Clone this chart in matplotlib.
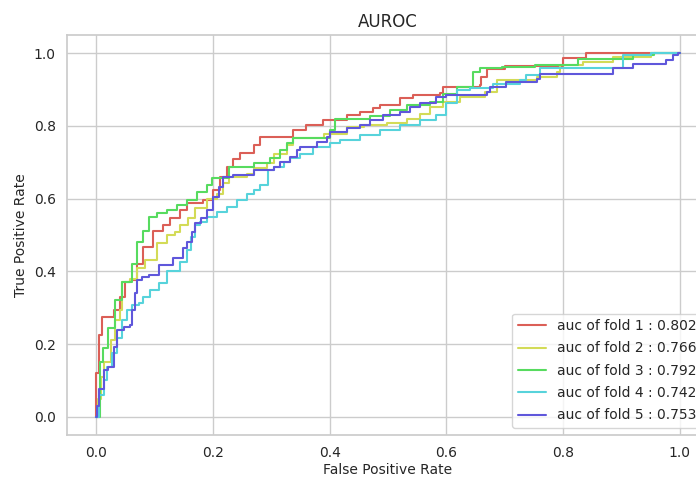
import matplotlib
matplotlib.use("Agg")
import matplotlib.pyplot as plt
import seaborn as sns

# ROC corner points (fpr, tpr) per fold
fold1_fpr = [0.0, 0.0, 0.005, 0.01, 0.03, 0.04, 0.05, 0.058, 0.07, 0.081, 0.098, 0.115, 0.126,
             0.143, 0.155, 0.183, 0.2, 0.212, 0.224, 0.235, 0.247, 0.27, 0.28, 0.332, 0.338,
             0.36, 0.389, 0.43, 0.452, 0.475, 0.486, 0.52, 0.543, 0.589, 0.594, 0.658, 0.66,
             0.669, 0.70, 0.797, 0.80, 0.84, 1.0]
fold1_tpr = [0.0, 0.12, 0.225, 0.275, 0.295, 0.33, 0.37, 0.376, 0.42, 0.468, 0.51, 0.527, 0.546,
             0.568, 0.587, 0.596, 0.624, 0.66, 0.688, 0.71, 0.725, 0.747, 0.77, 0.77, 0.788,
             0.802, 0.816, 0.83, 0.839, 0.849, 0.857, 0.876, 0.885, 0.89, 0.907, 0.912, 0.935,
             0.956, 0.964, 0.964, 0.986, 1.0, 1.0]

fold2_fpr = [0.0, 0.003, 0.008, 0.014, 0.025, 0.033, 0.041, 0.044, 0.058, 0.07, 0.084, 0.104,
             0.121, 0.135, 0.144, 0.158, 0.17, 0.19, 0.207, 0.218, 0.227, 0.258, 0.27, 0.292,
             0.304, 0.327, 0.338, 0.39, 0.43, 0.458, 0.498, 0.532, 0.555, 0.572, 0.595, 0.623,
             0.666, 0.686, 0.755, 0.789, 0.795, 0.834, 0.885, 0.95, 1.0]
fold2_tpr = [0.0, 0.05, 0.11, 0.15, 0.21, 0.266, 0.294, 0.372, 0.38, 0.408, 0.431, 0.477,
             0.5, 0.509, 0.527, 0.546, 0.573, 0.60, 0.614, 0.642, 0.66, 0.669, 0.683, 0.697,
             0.724, 0.747, 0.766, 0.779, 0.797, 0.802, 0.807, 0.82, 0.834, 0.852, 0.866, 0.88,
             0.894, 0.926, 0.935, 0.949, 0.967, 0.976, 0.99, 1.0, 1.0]

fold3_fpr = [0.0, 0.007, 0.012, 0.021, 0.033, 0.044, 0.061, 0.07, 0.08, 0.09, 0.104, 0.121,
             0.138, 0.155, 0.172, 0.19, 0.198, 0.227, 0.27, 0.298, 0.315, 0.327, 0.338, 0.40,
             0.409, 0.469, 0.503, 0.532, 0.572, 0.595, 0.618, 0.646, 0.658, 0.695, 0.752,
             0.826, 0.92, 0.955, 1.0]
fold3_tpr = [0.0, 0.15, 0.19, 0.245, 0.32, 0.37, 0.42, 0.48, 0.51, 0.55, 0.56, 0.568,
             0.582, 0.596, 0.619, 0.637, 0.656, 0.688, 0.697, 0.711, 0.733, 0.752, 0.766, 0.788,
             0.82, 0.827, 0.843, 0.857, 0.866, 0.889, 0.907, 0.949, 0.96, 0.962, 0.967,
             0.983, 0.995, 1.0, 1.0]

fold4_fpr = [0.0, 0.005, 0.013, 0.019, 0.027, 0.035, 0.044, 0.052, 0.061, 0.073, 0.081, 0.092,
             0.107, 0.121, 0.144, 0.155, 0.163, 0.17, 0.177, 0.19, 0.207, 0.224, 0.241, 0.258,
             0.27, 0.281, 0.295, 0.304, 0.321, 0.332, 0.349, 0.372, 0.40, 0.418, 0.452, 0.486,
             0.52, 0.555, 0.583, 0.60, 0.618, 0.64, 0.68, 0.726, 0.737, 0.76, 0.902, 0.95, 1.0]
fold4_tpr = [0.0, 0.06, 0.10, 0.138, 0.175, 0.216, 0.266, 0.294, 0.308, 0.312, 0.33, 0.349,
             0.367, 0.40, 0.427, 0.459, 0.495, 0.527, 0.537, 0.55, 0.564, 0.578, 0.596, 0.614,
             0.624, 0.637, 0.679, 0.688, 0.701, 0.711, 0.724, 0.743, 0.752, 0.761, 0.775, 0.788,
             0.802, 0.816, 0.83, 0.862, 0.898, 0.903, 0.915, 0.926, 0.94, 0.958, 0.995, 1.0, 1.0]

fold5_fpr = [0.0, 0.002, 0.005, 0.013, 0.021, 0.03, 0.035, 0.047, 0.058, 0.061, 0.067, 0.07,
             0.079, 0.09, 0.107, 0.132, 0.149, 0.155, 0.164, 0.17, 0.18, 0.19, 0.2, 0.21, 0.218,
             0.235, 0.27, 0.304, 0.315, 0.332, 0.344, 0.349, 0.378, 0.395, 0.40, 0.43, 0.452,
             0.469, 0.492, 0.52, 0.538, 0.555, 0.583, 0.60, 0.669, 0.675, 0.703, 0.755, 0.76,
             0.886, 0.92, 0.977, 0.989, 0.997, 1.0]
fold5_tpr = [0.0, 0.03, 0.076, 0.129, 0.138, 0.193, 0.239, 0.248, 0.253, 0.294, 0.34, 0.376,
             0.385, 0.39, 0.418, 0.436, 0.463, 0.482, 0.509, 0.532, 0.546, 0.568, 0.605, 0.633,
             0.66, 0.665, 0.679, 0.688, 0.701, 0.715, 0.733, 0.743, 0.756, 0.77, 0.784, 0.793,
             0.802, 0.816, 0.83, 0.839, 0.852, 0.862, 0.88, 0.885, 0.894, 0.907, 0.921, 0.93,
             0.944, 0.958, 0.971, 0.981, 0.995, 1.0, 1.0]

fold_aucs = [0.802, 0.766, 0.792, 0.742, 0.753]

sns.set_theme(style="whitegrid")
plt.rcParams['font.family'] = ['DejaVu Sans']

fprs = [fold1_fpr, fold2_fpr, fold3_fpr, fold4_fpr, fold5_fpr]
tprs = [fold1_tpr, fold2_tpr, fold3_tpr, fold4_tpr, fold5_tpr]
colors = sns.color_palette("hls", 6)

fig = plt.figure(figsize=(6.96, 4.79), dpi=100)
# axes runs slightly past the right edge, as in the cropped reference
ax = fig.add_axes([0.0963, 0.0919, 0.9224, 0.835])

for i, (fpr, tpr) in enumerate(zip(fprs, tprs)):
    ax.plot(fpr, tpr, color=colors[i], lw=1.5, drawstyle='steps-post',
            label=f'auc of fold {i + 1} : {fold_aucs[i]:.3f}')

ax.set_xlim(-0.05, 1.05)
ax.set_ylim(-0.05, 1.05)
ax.set_title('AUROC', fontsize=12, pad=6)
ax.set_xlabel('False Positive Rate', fontsize=10, labelpad=2)
ax.set_ylabel('True Positive Rate', fontsize=10)
ax.tick_params(labelsize=10, pad=2)
ax.legend(loc='lower right', fontsize=10, labelspacing=0.6)

fig.savefig('out.png', dpi=100)
